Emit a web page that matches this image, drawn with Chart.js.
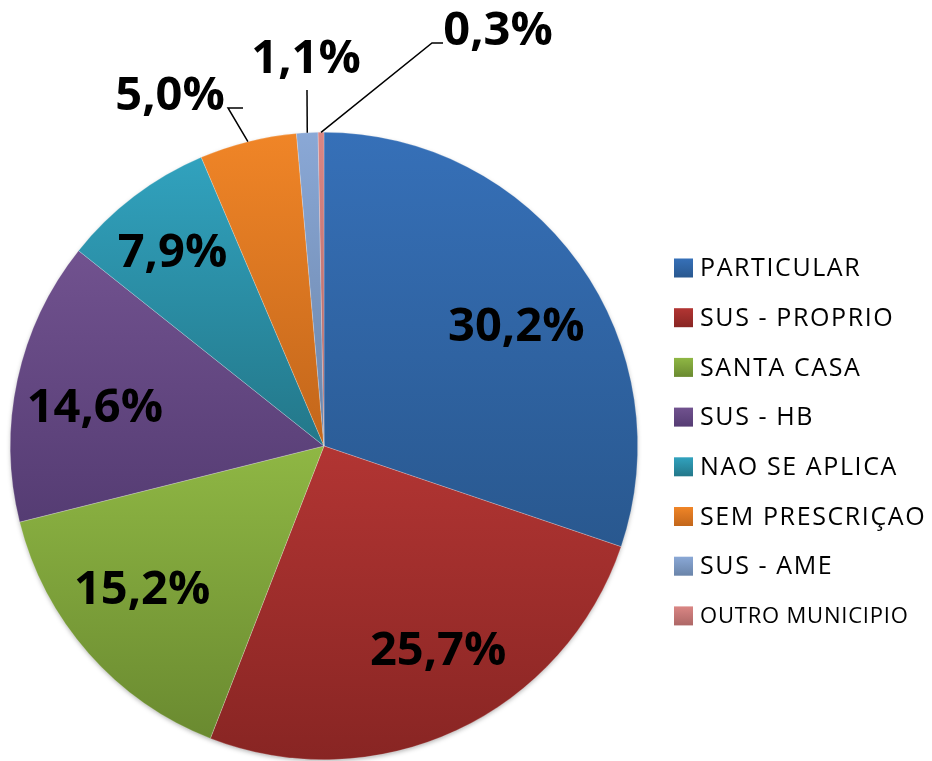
<!DOCTYPE html>
<html>
<head>
<meta charset="utf-8">
<script src="https://cdn.jsdelivr.net/npm/chart.js@4"></script>
<style>
  html, body { margin: 0; padding: 0; background: #fff; }
  #wrap { width: 932px; height: 761px; }
</style>
</head>
<body>
<div id="wrap"><canvas id="pieChart" width="932" height="761"></canvas></div>
<script>
// data
const categories = ['PARTICULAR', 'SUS - PROPRIO', 'SANTA CASA', 'SUS - HB', 'NAO SE APLICA', 'SEM PRESCRIÇAO', 'SUS - AME', 'OUTRO MUNICIPIO'];
const values = [30.2, 25.7, 15.2, 14.6, 7.9, 5.0, 1.1, 0.3];
const valueLabels = ['30,2%', '25,7%', '15,2%', '14,6%', '7,9%', '5,0%', '1,1%', '0,3%'];

// light (top) / dark (bottom) of each slice
const lightColors = ['#3670b8', '#b23533', '#8fb744', '#71528f', '#31a2be', '#f08527', '#8aa8d6', '#da8684'];
const darkColors = ['#29588f', '#882523', '#6a8a30', '#553c73', '#237789', '#c2661b', '#6a84a9', '#ad6766'];

// label placement: inside = [radius factor, angle shift in deg]; outside = text centre + leader line
const insideLabels = {
    0: [0.72, 4], 1: [0.75, -4], 2: [0.74, 3], 3: [0.74, -3], 4: [0.78, -1]
};
const outsideLabels = {
    5: { text: [170, 95], line: [[228, 108], [243, 108]] },
    6: { text: [306, 58], line: [[307, 90]] },
    7: { text: [498, 30], line: [[432, 43], [443, 43]] }
};

const labelFont = 'bold 47px "Open Sans", sans-serif';

function sliceGradient(context) {
    const chart = context.chart;
    const i = context.dataIndex;
    const area = chart.chartArea;
    if (!area) return lightColors[i];
    const cx = (area.left + area.right) / 2;
    const cy = (area.top + area.bottom) / 2;
    const r = Math.min(area.right - area.left, area.bottom - area.top) / 2;
    const total = values.reduce((a, b) => a + b, 0);
    let cum = 0;
    for (let k = 0; k < i; k++) cum += values[k];
    const a0 = -Math.PI / 2 + 2 * Math.PI * cum / total;
    const a1 = a0 + 2 * Math.PI * values[i] / total;
    // vertical extent of the sector
    let ys = [cy, cy + r * Math.sin(a0), cy + r * Math.sin(a1)];
    [Math.PI / 2, -Math.PI / 2, 3 * Math.PI / 2].forEach(a => {
        if (a >= a0 && a <= a1) ys.push(cy + r * Math.sin(a));
    });
    const y0 = Math.min(...ys), y1 = Math.max(...ys);
    const g = chart.ctx.createLinearGradient(0, y0, 0, Math.max(y1, y0 + 1));
    g.addColorStop(0, lightColors[i]);
    g.addColorStop(1, darkColors[i]);
    return g;
}

const shadowPlugin = {
    id: 'pieShadow',
    beforeDatasetsDraw(chart) {
        const arc = chart.getDatasetMeta(0).data[0];
        if (!arc) return;
        const ctx = chart.ctx;
        ctx.save();
        ctx.shadowColor = 'rgba(0,0,0,0.35)';
        ctx.shadowBlur = 5;
        ctx.shadowOffsetY = 2;
        ctx.fillStyle = '#fff';
        ctx.beginPath();
        ctx.arc(arc.x, arc.y, arc.outerRadius - 1, 0, Math.PI * 2);
        ctx.fill();
        ctx.restore();
    }
};

const labelPlugin = {
    id: 'valueLabels',
    afterDatasetsDraw(chart) {
        const ctx = chart.ctx;
        const arcs = chart.getDatasetMeta(0).data;
        ctx.save();
        ctx.font = labelFont;
        ctx.fillStyle = '#000';
        ctx.textAlign = 'center';
        ctx.textBaseline = 'middle';
        arcs.forEach((arc, i) => {
            const mid = (arc.startAngle + arc.endAngle) / 2;
            if (insideLabels[i]) {
                const [f, shift] = insideLabels[i];
                const a = mid + shift * Math.PI / 180;
                const r = arc.outerRadius * f;
                ctx.fillText(valueLabels[i], arc.x + r * Math.cos(a), arc.y + r * Math.sin(a));
            } else if (outsideLabels[i]) {
                const o = outsideLabels[i];
                ctx.strokeStyle = '#000';
                ctx.lineWidth = 1.5;
                ctx.beginPath();
                ctx.moveTo(arc.x + arc.outerRadius * Math.cos(mid), arc.y + arc.outerRadius * Math.sin(mid));
                o.line.forEach(p => ctx.lineTo(p[0], p[1]));
                ctx.stroke();
                ctx.fillText(valueLabels[i], o.text[0], o.text[1] + 2);
            }
        });
        ctx.restore();
    }
};

const legendPlugin = {
    id: 'sideLegend',
    afterDraw(chart) {
        const ctx = chart.ctx;
        ctx.save();
        ctx.textBaseline = 'middle';
        ctx.fillStyle = '#000';
        categories.forEach((name, i) => {
            const y = 268 + i * 49.7;
            const g = ctx.createLinearGradient(0, y - 9.5, 0, y + 9.5);
            g.addColorStop(0, lightColors[i]);
            g.addColorStop(1, darkColors[i]);
            ctx.fillStyle = g;
            ctx.fillRect(674, y - 9.5, 19, 19);
            ctx.fillStyle = '#000';
            ctx.font = (i === 7 ? '22px' : '25px') + ' "Open Sans", sans-serif';
            ctx.letterSpacing = i === 7 ? '0.8px' : '1.6px';
            ctx.fillText(name, 700, y + 1);
        });
        ctx.restore();
    }
};

new Chart(document.getElementById('pieChart').getContext('2d'), {
    type: 'pie',
    data: {
        labels: categories,
        datasets: [{
            data: values,
            backgroundColor: sliceGradient,
            borderColor: 'rgba(255,255,255,0.35)',
            borderWidth: 0.6
        }]
    },
    options: {
        responsive: false,
        devicePixelRatio: 1,
        animation: false,
        layout: { padding: { left: 10, right: 294, top: 132, bottom: 1 } },
        plugins: {
            legend: { display: false },
            tooltip: { enabled: false }
        }
    },
    plugins: [shadowPlugin, labelPlugin, legendPlugin]
});
</script>
</body>
</html>
